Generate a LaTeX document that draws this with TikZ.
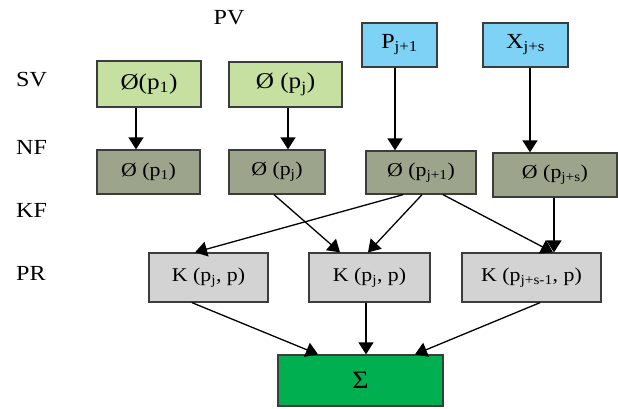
\documentclass[tikz,border=0pt]{standalone}
\usepackage{fontspec}
\setmainfont{Liberation Serif}[FakeStretch=1.12]
\usetikzlibrary{arrows.meta}
\definecolor{svgreen}{RGB}{198,224,162}
\definecolor{nfolive}{RGB}{156,165,140}
\definecolor{pvblue}{RGB}{125,210,245}
\definecolor{prgray}{RGB}{211,211,211}
\definecolor{sumgreen}{RGB}{0,176,80}
\definecolor{edge}{RGB}{60,60,60}
\tikzset{
  box/.style={draw=edge, line width=1.3pt, inner sep=0pt, text=black},
  svbox/.style={box, fill=svgreen, font=\fontsize{22.5}{24}\selectfont},
  nfbox/.style={box, fill=nfolive, font=\fontsize{19.5}{21}\selectfont},
  pvbox/.style={box, fill=pvblue, font=\fontsize{21.5}{23}\selectfont},
  prbox/.style={box, fill=prgray, font=\fontsize{19.5}{21}\selectfont},
  sumbox/.style={box, fill=sumgreen, font=\fontsize{25}{27}\selectfont},
  rowlabel/.style={anchor=west, inner sep=0pt, font=\fontsize{21.5}{23}\selectfont},
  arr/.style={line width=1.3pt, -{Triangle[width=15pt,length=12pt]}},
}
\newcommand{\sbs}[1]{\textsubscript{#1}}
\begin{document}
\begin{tikzpicture}[x=1pt,y=-1pt]
\useasboundingbox (0,0) rectangle (618,408);
% row labels
\node[inner sep=0pt, font=\fontsize{21.5}{23}\selectfont] (pv) at (229,18) {PV};
\node[rowlabel] (sv) at (16,80) {SV};
\node[rowlabel] (nf) at (16,147) {NF};
\node[rowlabel] (kf) at (16,210) {KF};
\node[rowlabel] (pr) at (16,273) {PR};
% SV row
\node[svbox, minimum width=104pt, minimum height=46pt] (sv1) at (149,84) {Ø(p\sbs{1})};
\node[svbox, minimum width=113pt, minimum height=45pt] (sv2) at (285.5,84.5) {Ø (p\sbs{j})};
\node[pvbox, minimum width=75pt, minimum height=44pt] (pv1) at (399.5,45) {P\sbs{j+1}};
\node[pvbox, minimum width=85pt, minimum height=44pt] (pv2) at (525.5,45) {X\sbs{j+s}};
% NF row
\node[nfbox, minimum width=103pt, minimum height=44pt] (nf1) at (148.5,172) {Ø (p\sbs{1})};
\node[nfbox, minimum width=96pt, minimum height=44pt] (nf2) at (277,172) {Ø (p\sbs{j})};
\node[nfbox, minimum width=110pt, minimum height=43pt] (nf3) at (421,172.5) {Ø (p\sbs{j+1})};
\node[nfbox, minimum width=124pt, minimum height=44pt] (nf4) at (555,175) {Ø (p\sbs{j+s})};
% PR row
\node[prbox, minimum width=119pt, minimum height=49pt] (pr1) at (208.5,277.5) {K (p\sbs{j}, p)};
\node[prbox, minimum width=121pt, minimum height=49pt] (pr2) at (369.5,277.5) {K (p\sbs{j}, p)};
\node[prbox, minimum width=139pt, minimum height=49pt] (pr3) at (531.5,277.5) {K (p\sbs{j+s-1}, p)};
% sum
\node[sumbox, minimum width=165pt, minimum height=51pt] (sg) at (360.5,380.5) {Σ};
% vertical arrows
\draw[arr] ([xshift=-13pt]sv1.south) -- ([xshift=-13pt]sv1.south |- nf1.north);
\draw[arr] ([xshift=2.5pt]sv2.south) -- ([xshift=2.5pt]sv2.south |- nf2.north);
\draw[arr] ([xshift=-4.5pt]pv1.south) -- ([xshift=-4.5pt]pv1.south |- nf3.north);
\draw[arr] ([xshift=4.5pt]pv2.south) -- ([xshift=4.5pt]pv2.south |- nf4.north);
% NF to PR
\draw[arr] ([xshift=-3pt]nf2.south) -- ([xshift=-29.5pt]pr2.north);
\draw[arr] ([xshift=-18pt]nf3.south) -- ([xshift=-13.5pt]pr1.north);
\draw[arr] ([xshift=1pt]nf3.south) -- ([xshift=-1.5pt]pr2.north);
\draw[arr] ([xshift=22pt]nf3.south) -- ([xshift=21.5pt]pr3.north);
\draw[arr] ([xshift=-1pt]nf4.south) -- ([xshift=-1pt]nf4.south |- pr3.north);
% PR to sum
\draw[arr] ([xshift=-16.5pt]pr1.south) -- ([xshift=-42.5pt]sg.north);
\draw[arr] ([xshift=-3.5pt]pr2.south) -- ([xshift=-3.5pt]pr2.south |- sg.north);
\draw[arr] ([xshift=8.5pt]pr3.south) -- ([xshift=54.5pt]sg.north);
\end{tikzpicture}
\end{document}
